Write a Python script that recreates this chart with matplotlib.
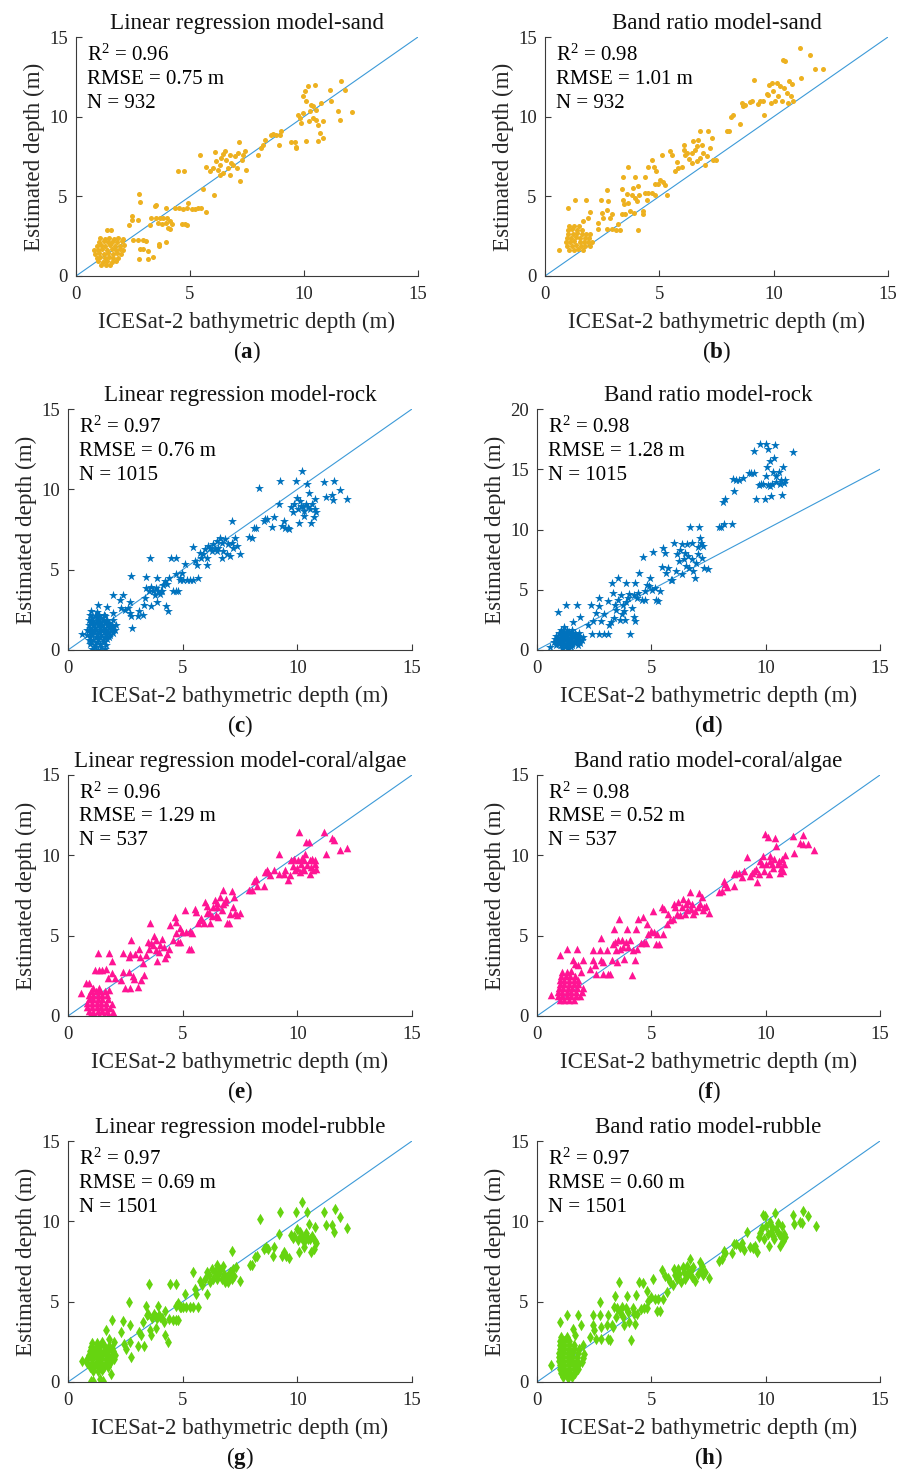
import numpy as np
import matplotlib
matplotlib.use("Agg")
import matplotlib.pyplot as plt

plt.rcParams["font.family"] = ["Liberation Serif", "DejaVu Serif"]
plt.rcParams["mathtext.fontset"] = "custom"
plt.rcParams["mathtext.rm"] = "Liberation Serif"
plt.rcParams["mathtext.it"] = "Liberation Serif:italic"
plt.rcParams["mathtext.bf"] = "Liberation Serif:bold"

# ---------------------------------------------------------------- data
# (ICESat-2 depth, estimated depth) pairs, metres
sand_lr = [
    # shallow cluster
    (1.10, 0.70), (1.32, 0.68), (1.50, 0.72),
    (0.95, 0.92), (1.17, 0.88), (1.36, 0.95), (1.56, 0.90), (1.74, 0.93),
    (0.90, 1.15), (1.06, 1.18), (1.25, 1.12), (1.46, 1.17), (1.64, 1.14), (1.86, 1.10),
    (0.84, 1.40), (1.01, 1.42), (1.21, 1.38), (1.40, 1.43), (1.61, 1.39), (1.79, 1.44), (1.96, 1.40),
    (0.80, 1.66), (0.96, 1.63), (1.16, 1.68), (1.34, 1.64), (1.56, 1.67), (1.74, 1.62), (1.94, 1.68), (2.06, 1.64),
    (0.90, 1.90), (1.11, 1.92), (1.29, 1.88), (1.51, 1.93), (1.69, 1.89), (1.91, 1.91), (2.10, 1.95),
    (1.00, 2.15), (1.21, 2.17), (1.41, 2.13), (1.59, 2.16), (1.81, 2.12), (2.01, 2.18),
    (1.05, 2.36), (1.26, 2.34), (1.44, 2.38), (1.66, 2.35), (1.84, 2.37), (2.05, 2.33),
    (1.35, 2.90), (1.55, 2.90),
    # 2-5 m
    (2.77, 5.16), (2.82, 4.63), (2.44, 3.76), (2.44, 3.49), (2.34, 3.19), (2.73, 3.49),
    (2.48, 2.23), (2.70, 2.23), (2.92, 2.23), (3.09, 2.19), (2.80, 1.67), (2.92, 1.67),
    (2.76, 1.09), (3.17, 1.09), (3.36, 1.19), (3.17, 1.57), (3.65, 1.98), (3.65, 1.88), (3.94, 2.15),
    (3.24, 3.19), (3.46, 4.38), (3.53, 4.43), (3.31, 3.65), (3.53, 3.65), (3.68, 3.65), (3.82, 3.65),
    (3.97, 3.65), (4.12, 3.44), (3.61, 3.34), (3.75, 3.28), (3.94, 3.34), (4.04, 3.03), (4.12, 2.92),
    (4.19, 3.24), (3.94, 4.24), (4.34, 4.24), (4.53, 4.28), (4.48, 6.58), (4.74, 6.58),
    (4.63, 3.24), (4.77, 3.24), (4.89, 3.19), (4.70, 4.18), (4.85, 4.24), (4.92, 4.59), (5.07, 4.18),
    (5.21, 4.18), (5.36, 4.28), (5.50, 4.28), (5.69, 4.01), (5.43, 7.58), (5.55, 5.43), (5.72, 6.87),
    (6.06, 5.11),
    # 6-8 m
    (5.87, 6.58), (6.01, 6.79), (6.09, 7.79), (6.16, 7.20), (6.23, 6.68), (6.31, 6.99), (6.38, 7.41),
    (6.45, 6.47), (6.53, 7.87), (6.60, 7.31), (6.67, 6.79), (6.74, 7.62), (6.82, 7.10), (6.89, 6.99),
    (6.96, 7.52), (7.04, 6.79), (7.11, 7.72), (7.18, 5.95), (7.26, 7.31), (7.33, 7.62), (7.15, 8.41),
    (7.47, 6.68), (6.77, 6.37), (6.45, 7.66), (6.31, 6.37), (7.40, 7.87), (7.99, 7.62), (8.13, 8.04),
    (8.20, 8.25), (8.28, 8.56),
    # 8.5-12 m
    (8.57, 8.87), (8.64, 8.91), (8.79, 8.83), (8.93, 8.83), (9.01, 9.12), (8.91, 8.20),
    (9.45, 8.41), (9.60, 8.41), (9.64, 8.04), (9.66, 8.08),
    (9.74, 10.13), (9.81, 9.92), (9.88, 9.60), (9.96, 10.23), (10.03, 11.59), (10.10, 10.96),
    (10.18, 11.90), (10.22, 9.71), (10.25, 10.33), (10.32, 10.75), (10.39, 9.92), (10.47, 12.00),
    (10.54, 10.44), (10.61, 9.50), (10.69, 8.98), (10.76, 10.86), (10.83, 9.71), (10.83, 8.66),
    (10.10, 8.46), (10.61, 8.46), (10.39, 10.65), (9.96, 11.27), (10.54, 9.81),
    (11.19, 10.96), (11.15, 11.69), (11.49, 10.33), (11.56, 9.81), (11.61, 12.25), (11.82, 11.69),
    (12.12, 10.29),
]

sand_br = [
    # shallow cluster
    (1.05, 1.66), (1.26, 1.63), (1.45, 1.67), (1.66, 1.64),
    (0.95, 1.90), (1.16, 1.88), (1.34, 1.92), (1.56, 1.89), (1.74, 1.91), (1.96, 1.87),
    (0.90, 2.15), (1.11, 2.13), (1.29, 2.17), (1.51, 2.14), (1.70, 2.16), (1.89, 2.12), (2.06, 2.16),
    (0.96, 2.40), (1.14, 2.38), (1.36, 2.42), (1.54, 2.39), (1.76, 2.41), (1.94, 2.37),
    (1.00, 2.65), (1.21, 2.63), (1.39, 2.67), (1.61, 2.64), (1.79, 2.66), (1.96, 2.62),
    (1.01, 2.90), (1.20, 2.92), (1.41, 2.88), (1.60, 2.91),
    (1.06, 3.14), (1.29, 3.16), (1.50, 3.12),
    (0.63, 1.61), (0.99, 4.24), (1.31, 4.76), (1.79, 4.76), (1.97, 4.01), (1.90, 3.65), (1.68, 3.44),
    # 2-5 m
    (2.45, 4.76), (2.48, 3.97), (2.52, 3.65), (2.73, 5.41), (2.77, 4.70), (2.73, 4.13), (2.84, 3.65),
    (2.92, 3.90), (2.73, 2.92), (2.92, 2.92), (3.10, 2.86), (3.28, 2.86), (3.21, 3.24), (2.33, 3.34),
    (2.33, 2.92), (3.40, 6.20), (3.35, 5.43), (3.40, 4.80), (3.45, 4.49), (3.35, 3.86), (3.50, 3.86),
    (3.62, 6.83), (3.57, 5.16), (3.64, 4.59), (3.72, 4.07), (3.79, 5.11), (3.86, 5.53), (3.94, 6.20),
    (3.94, 4.91), (4.01, 4.70), (4.08, 5.64), (4.13, 5.11), (3.89, 3.97), (4.30, 4.07), (4.30, 3.86),
    (4.37, 6.20), (4.45, 4.74), (4.08, 2.86), (4.37, 5.22), (4.52, 5.22), (4.66, 5.22), (4.66, 7.31),
    (4.52, 6.83), (4.81, 5.11), (4.77, 6.83), (4.85, 6.58), (4.81, 5.78), (4.96, 5.78), (5.03, 6.05),
    # 5-7.5 m
    (5.10, 7.62), (5.17, 5.91), (5.25, 5.74), (5.32, 5.11), (5.47, 7.87), (5.54, 7.62), (5.69, 6.58),
    (5.76, 7.16), (5.83, 6.79), (5.98, 6.83), (6.08, 8.25), (6.08, 7.93), (6.12, 7.62), (6.20, 7.72),
    (6.31, 7.37), (6.41, 7.10), (6.49, 8.46), (6.56, 7.93), (6.63, 8.14), (6.70, 8.56), (6.78, 9.08),
    (6.78, 7.41), (6.85, 8.25), (6.92, 7.72), (6.99, 6.99), (7.07, 7.52), (7.14, 9.08), (7.22, 8.04),
    (7.29, 8.66), (7.36, 7.31), (7.48, 7.31), (6.63, 7.20), (6.41, 7.72),
    # 8-12 m
    (7.94, 9.12), (8.06, 9.12), (8.13, 9.96), (8.21, 10.08), (8.53, 9.54),
    (8.62, 10.86), (8.66, 10.65), (8.74, 10.75), (8.97, 10.92), (9.04, 10.96), (9.14, 12.32),
    (9.33, 10.79), (9.40, 11.00), (9.55, 10.96), (9.59, 10.08), (9.69, 11.42), (9.77, 11.34),
    (9.81, 12.00), (9.87, 10.86), (9.91, 12.11), (9.99, 11.59), (10.06, 10.96), (10.13, 12.11),
    (10.20, 11.27), (10.28, 11.90), (10.35, 10.96), (10.39, 13.57), (10.50, 13.47), (10.45, 11.80),
    (10.57, 11.48), (10.64, 10.86), (10.69, 12.21), (10.76, 11.27), (10.79, 12.05), (10.86, 10.96),
    (11.15, 14.34), (11.18, 12.42), (11.59, 13.88), (11.81, 12.99), (12.14, 13.01),
]

rock_lr = [
    # shallow cluster
    (1.05, 0.05), (1.31, 0.03), (1.60, 0.06), (1.18, 0.20), (1.45, 0.18),
    (0.95, 0.35), (1.16, 0.33), (1.40, 0.37), (1.66, 0.34), (1.02, 0.50), (1.28, 0.50), (1.55, 0.52),
    (0.90, 0.65), (1.11, 0.63), (1.30, 0.67), (1.51, 0.64), (1.70, 0.66), (0.98, 0.80), (1.20, 0.80),
    (1.40, 0.82), (1.60, 0.79), (1.78, 0.80),
    (0.85, 0.95), (1.04, 0.93), (1.26, 0.97), (1.45, 0.94), (1.66, 0.96), (1.85, 0.92),
    (0.95, 1.10), (1.15, 1.10), (1.35, 1.12), (1.55, 1.09), (1.75, 1.10), (1.95, 1.08),
    (0.85, 1.25), (1.06, 1.23), (1.24, 1.27), (1.46, 1.24), (1.64, 1.26), (1.86, 1.22), (2.05, 1.26),
    (0.98, 1.40), (1.18, 1.40), (1.38, 1.42), (1.58, 1.39), (1.78, 1.40), (1.98, 1.41),
    (0.90, 1.55), (1.09, 1.53), (1.31, 1.57), (1.50, 1.54), (1.71, 1.56), (1.90, 1.52), (2.10, 1.56),
    (1.00, 1.70), (1.20, 1.70), (1.40, 1.72), (1.60, 1.69), (1.80, 1.71),
    (0.91, 1.85), (1.10, 1.83), (1.29, 1.87), (1.51, 1.84), (1.70, 1.86), (1.95, 1.84),
    (1.05, 2.00), (1.25, 2.00), (1.45, 2.02),
    (0.95, 2.15), (1.16, 2.13), (1.35, 2.17), (1.60, 2.14),
    (1.00, 2.40), (1.25, 2.38),
    (0.61, 1.00), (1.30, 2.82), (1.59, 2.15), (1.71, 2.65), (1.96, 3.40), (1.96, 2.30), (1.81, 1.57),
    # 2-5.7 m
    (2.28, 3.13), (2.42, 3.44), (2.31, 2.61), (2.47, 2.51), (2.61, 2.61), (2.69, 2.99), (2.73, 4.59),
    (2.80, 1.36), (2.69, 2.30), (2.73, 2.09), (3.05, 2.09), (3.09, 2.44), (3.27, 2.15), (3.31, 2.82),
    (3.34, 3.24), (3.39, 4.53), (3.42, 3.86), (3.52, 3.65), (3.59, 5.74), (3.63, 2.71), (3.63, 3.90),
    (3.71, 3.65), (3.78, 3.44), (3.82, 3.86), (3.88, 4.49), (3.88, 2.99), (3.93, 3.65), (4.00, 3.49),
    (4.07, 3.70), (4.12, 3.70), (4.15, 4.03), (4.22, 4.28), (4.26, 2.71), (4.37, 2.40), (4.32, 4.11),
    (4.41, 4.49), (4.47, 5.74), (4.58, 3.65), (4.70, 5.74), (4.70, 4.74), (4.73, 3.65), (4.80, 3.65),
    (4.88, 4.49), (4.88, 4.38), (4.95, 4.80), (5.02, 4.38), (5.17, 4.38), (5.31, 4.38), (5.46, 4.38),
    (5.68, 4.49), (5.09, 5.37), (5.43, 6.41), (5.53, 5.57), (5.61, 5.32),
    # 5.7-7.5 m
    (5.75, 6.05), (5.82, 5.74), (5.90, 5.95), (5.96, 6.26), (6.04, 5.32), (6.07, 5.74), (6.12, 6.47),
    (6.19, 6.37), (6.26, 6.16), (6.34, 6.58), (6.41, 6.26), (6.48, 6.79), (6.55, 6.37), (6.63, 6.99),
    (6.70, 6.68), (6.77, 6.16), (6.85, 6.89), (6.92, 5.95), (6.99, 6.58), (7.07, 5.85), (7.14, 8.04),
    (7.14, 6.68), (7.21, 6.37), (7.28, 6.99), (7.36, 6.47), (7.50, 5.99), (6.48, 6.16), (6.70, 5.74),
    # 7.9-12.2 m
    (7.91, 7.04), (8.01, 6.99), (8.12, 7.62), (8.20, 7.58), (8.35, 10.08), (8.53, 8.04), (8.61, 8.14),
    (8.67, 8.14), (8.89, 7.66), (8.99, 8.25), (9.18, 9.08), (9.23, 10.50), (9.33, 7.72), (9.43, 8.00),
    (9.47, 7.62), (9.58, 7.58), (9.62, 7.52),
    (9.72, 8.87), (9.81, 8.62), (9.87, 9.08), (9.96, 10.50), (9.99, 9.46), (10.01, 8.77), (10.07, 7.93),
    (10.10, 9.29), (10.16, 8.98), (10.22, 11.17), (10.25, 8.87), (10.31, 8.66), (10.36, 9.08),
    (10.42, 10.33), (10.45, 8.87), (10.51, 9.75), (10.57, 8.77), (10.61, 7.93), (10.66, 9.08),
    (10.72, 8.25), (10.76, 8.77), (10.79, 9.39), (10.83, 8.62), (10.28, 8.35),
    (11.18, 10.44), (11.23, 9.54), (11.52, 9.67), (11.56, 9.33), (11.61, 10.50), (11.85, 9.96),
    (12.18, 9.39),
]

rock_br = [
    # shallow cluster
    (1.10, 0.15), (1.35, 0.17), (1.22, 0.28), (1.48, 0.28),
    (0.85, 0.40), (1.05, 0.38), (1.30, 0.42), (1.55, 0.39), (1.80, 0.41),
    (0.95, 0.52), (1.18, 0.53), (1.42, 0.52), (1.68, 0.54),
    (0.75, 0.65), (0.95, 0.63), (1.15, 0.67), (1.40, 0.64), (1.65, 0.66), (1.90, 0.62),
    (0.88, 0.78), (1.08, 0.77), (1.30, 0.79), (1.55, 0.78), (1.80, 0.77),
    (0.80, 0.90), (1.00, 0.88), (1.20, 0.92), (1.45, 0.89), (1.70, 0.91), (1.95, 0.87),
    (0.92, 1.02), (1.12, 1.03), (1.35, 1.02), (1.60, 1.04), (1.85, 1.02),
    (0.85, 1.15), (1.05, 1.13), (1.30, 1.17), (1.55, 1.14), (1.80, 1.16), (2.00, 1.12),
    (1.05, 1.28), (1.25, 1.27), (1.50, 1.29), (1.72, 1.28),
    (0.95, 1.40), (1.15, 1.38), (1.40, 1.42), (1.65, 1.39), (1.85, 1.41),
    (1.18, 1.53), (1.42, 1.52),
    (1.05, 1.65), (1.30, 1.63), (1.55, 1.67), (1.20, 1.90),
    (0.56, 0.28), (0.93, 3.15), (1.29, 3.76), (1.73, 3.76), (1.59, 2.31), (1.88, 2.70), (2.25, 2.09),
    # 2.3-5.7 m
    (2.36, 3.76), (2.42, 1.31), (2.47, 2.37), (2.57, 3.06), (2.69, 1.31), (2.72, 4.32), (2.72, 3.62),
    (2.80, 2.37), (2.91, 1.31), (2.95, 2.98), (3.10, 4.09), (3.10, 1.31), (3.16, 2.09), (3.25, 2.31),
    (3.30, 5.57), (3.32, 4.74), (3.35, 2.65), (3.42, 3.76), (3.45, 3.34), (3.54, 5.99), (3.54, 4.18),
    (3.64, 2.51), (3.68, 4.60), (3.72, 2.98), (3.74, 3.76), (3.79, 3.20), (3.83, 2.51), (3.89, 5.57),
    (3.89, 3.98), (3.98, 4.32), (4.04, 4.65), (4.08, 1.31), (4.16, 3.48), (4.23, 4.60), (4.23, 2.70),
    (4.27, 5.57), (4.27, 2.37), (4.38, 4.32), (4.42, 4.74), (4.48, 6.41), (4.60, 4.18), (4.63, 7.72),
    (4.71, 4.87), (4.74, 4.18), (4.82, 5.43), (4.89, 5.29), (4.96, 5.99), (5.04, 5.01), (5.07, 8.13),
    (5.18, 5.15), (5.21, 4.18), (5.30, 4.09), (5.40, 4.87), (5.45, 6.88), (5.51, 8.50), (5.60, 8.08),
    (5.65, 6.41),
    # 5.7-7.5 m
    (5.74, 6.82), (5.84, 5.85), (5.92, 5.85), (5.99, 8.91), (6.06, 6.55), (6.14, 7.94), (6.21, 7.38),
    (6.24, 8.27), (6.33, 6.27), (6.36, 8.77), (6.43, 7.52), (6.46, 8.08), (6.51, 6.96), (6.58, 8.77),
    (6.62, 7.80), (6.65, 6.82), (6.71, 10.22), (6.77, 8.91), (6.80, 7.52), (6.83, 6.55), (6.92, 5.99),
    (6.95, 7.24), (7.02, 7.94), (7.09, 10.17), (7.12, 9.33), (7.17, 8.91), (7.21, 7.66), (7.27, 8.64),
    (7.31, 6.82), (7.46, 6.69), (7.02, 8.55),
    # 7.9-11.2 m
    (7.94, 10.17), (8.05, 10.17), (8.15, 12.26), (8.19, 10.45), (8.24, 12.53), (8.53, 10.45),
    (8.56, 14.21), (8.63, 13.23), (8.71, 14.12), (8.85, 14.07), (8.99, 14.29), (9.27, 14.68),
    (9.37, 14.68), (9.47, 16.52), (9.51, 14.68), (9.59, 12.53), (9.71, 13.73), (9.74, 17.08),
    (9.81, 13.79), (9.88, 13.79), (9.96, 12.53), (10.00, 14.40), (10.03, 17.08), (10.06, 15.18),
    (10.10, 16.71), (10.10, 13.73), (10.18, 13.65), (10.21, 15.68), (10.25, 12.81), (10.29, 13.79),
    (10.32, 14.76), (10.35, 15.96), (10.40, 16.99), (10.44, 13.93), (10.47, 14.40), (10.59, 14.76),
    (10.62, 13.79), (10.69, 14.07), (10.73, 12.90), (10.76, 15.18), (10.79, 13.84), (10.84, 14.07),
    (11.20, 16.43),
]

coral_lr = [
    # shallow cluster
    (0.95, 0.05), (1.15, 0.04), (1.35, 0.06), (1.55, 0.05), (1.75, 0.04), (1.95, 0.06),
    (0.90, 0.30), (1.10, 0.28), (1.30, 0.32), (1.50, 0.29), (1.70, 0.31), (1.95, 0.27),
    (0.85, 0.55), (1.05, 0.53), (1.25, 0.57), (1.45, 0.54), (1.65, 0.56), (1.85, 0.52),
    (0.85, 0.80), (1.05, 0.78), (1.25, 0.82), (1.45, 0.79), (1.65, 0.81), (1.90, 0.77),
    (0.90, 1.05), (1.10, 1.03), (1.30, 1.07), (1.50, 1.04), (1.75, 1.06),
    (0.90, 1.30), (1.10, 1.28), (1.30, 1.32), (1.50, 1.29), (1.70, 1.31),
    (1.00, 1.55), (1.20, 1.53), (1.40, 1.57), (1.60, 1.54),
    (1.10, 1.75), (1.35, 1.77),
    (0.58, 1.41), (0.80, 2.03), (0.92, 2.07), (1.18, 2.86), (1.29, 3.93), (1.36, 2.86), (1.48, 2.86),
    (1.65, 2.90), (1.77, 3.93), (1.73, 2.34), (1.94, 3.42), (1.80, 1.61), (1.94, 2.65), (2.06, 2.34),
    # 2.3-5.6 m
    (2.31, 2.24), (2.41, 3.93), (2.41, 2.75), (2.50, 1.76), (2.68, 3.69), (2.70, 3.89), (2.75, 4.72),
    (2.68, 2.75), (2.72, 1.76), (2.82, 2.48), (2.89, 2.28), (2.94, 3.89), (3.04, 1.82), (3.11, 4.20),
    (3.14, 3.69), (3.19, 2.24), (3.29, 3.27), (3.33, 2.55), (3.41, 3.79), (3.48, 4.62), (3.55, 4.20),
    (3.58, 5.80), (3.62, 4.55), (3.70, 4.41), (3.73, 4.97), (3.82, 4.10), (3.85, 4.72), (3.88, 3.42),
    (3.96, 4.00), (4.02, 4.41), (4.11, 4.82), (4.17, 4.31), (4.25, 3.62), (4.31, 3.89), (4.40, 4.20),
    (4.46, 5.65), (4.58, 4.72), (4.65, 6.17), (4.69, 5.86), (4.72, 5.18), (4.80, 4.62), (4.87, 5.45),
    (4.90, 4.62), (4.99, 5.24), (5.09, 6.58), (5.16, 5.24), (5.28, 4.20), (5.31, 5.30), (5.38, 4.20),
    (5.42, 5.18), (5.53, 6.69), (5.60, 6.48),
    # 5.6-7.5 m
    (5.67, 5.76), (5.75, 5.96), (5.82, 6.13), (5.92, 5.76), (5.96, 7.10), (6.04, 6.38), (6.07, 6.83),
    (6.15, 6.48), (6.18, 5.80), (6.26, 6.21), (6.33, 6.79), (6.40, 7.25), (6.45, 6.27), (6.51, 7.04),
    (6.55, 6.17), (6.62, 7.41), (6.70, 6.62), (6.74, 7.83), (6.77, 7.00), (6.84, 7.10), (6.89, 7.31),
    (6.94, 5.80), (7.03, 5.76), (7.06, 6.34), (7.13, 7.78), (7.18, 6.79), (7.24, 7.41), (7.30, 6.38),
    (7.38, 6.27), (7.50, 6.38), (6.48, 6.79),
    # 7.9-12.2 m
    (7.91, 7.83), (8.01, 7.83), (8.11, 8.41), (8.20, 8.55), (8.25, 8.07), (8.55, 8.07), (8.60, 8.96),
    (8.67, 9.07), (8.74, 8.96), (8.82, 8.76), (8.99, 9.07), (9.18, 10.06), (9.22, 8.86), (9.40, 8.86),
    (9.47, 9.07), (9.58, 8.49), (9.66, 8.76), (9.72, 9.69), (9.81, 9.32), (9.84, 9.79), (9.91, 9.07),
    (9.99, 9.23), (10.01, 9.69), (10.06, 11.45), (10.10, 8.96), (10.16, 9.44), (10.20, 9.86),
    (10.25, 9.17), (10.31, 9.69), (10.35, 10.10), (10.39, 10.83), (10.42, 9.38), (10.50, 10.83),
    (10.54, 9.69), (10.60, 9.28), (10.64, 9.79), (10.69, 9.07), (10.75, 9.48), (10.79, 9.69),
    (10.83, 9.17), (10.57, 8.86), (10.28, 9.07),
    (11.15, 11.45), (11.23, 10.06), (11.49, 11.10), (11.59, 10.97), (11.86, 10.35), (12.15, 10.48),
]

coral_br = [
    # shallow cluster
    (1.00, 1.00), (1.20, 0.98), (1.40, 1.02), (1.60, 0.99),
    (0.90, 1.25), (1.10, 1.23), (1.30, 1.27), (1.50, 1.24), (1.70, 1.26), (1.90, 1.22),
    (0.90, 1.50), (1.10, 1.48), (1.30, 1.52), (1.50, 1.49), (1.70, 1.51), (1.95, 1.47),
    (0.95, 1.75), (1.15, 1.73), (1.35, 1.77), (1.55, 1.74), (1.75, 1.76), (2.00, 1.72),
    (1.00, 2.00), (1.20, 1.98), (1.40, 2.02), (1.60, 1.99), (1.80, 2.01),
    (1.00, 2.25), (1.20, 2.23), (1.40, 2.27), (1.60, 2.24), (1.80, 2.26),
    (1.05, 2.50), (1.25, 2.48), (1.45, 2.52), (1.65, 2.49),
    (1.10, 2.75), (1.30, 2.73), (1.50, 2.77),
    (0.63, 1.30), (0.99, 3.77), (1.32, 4.19), (1.75, 4.19), (1.58, 3.46), (1.64, 3.26), (1.80, 3.15),
    (2.02, 3.51), (1.94, 2.74),
    # 2.3-5.7 m
    (2.31, 2.95), (2.43, 4.12), (2.46, 3.46), (2.53, 3.15), (2.57, 2.64), (2.75, 4.08), (2.78, 4.87),
    (2.82, 3.51), (2.87, 3.36), (2.89, 2.64), (3.07, 4.12), (3.11, 2.64), (3.19, 2.64), (3.30, 3.46),
    (3.33, 4.49), (3.36, 5.42), (3.41, 4.60), (3.45, 4.08), (3.48, 3.36), (3.55, 4.70), (3.60, 6.04),
    (3.63, 4.19), (3.70, 4.70), (3.74, 4.29), (3.80, 3.57), (3.89, 4.60), (3.95, 5.42), (3.99, 4.29),
    (4.06, 4.70), (4.14, 2.54), (4.21, 4.08), (4.28, 3.51), (4.33, 5.42), (4.36, 4.19), (4.43, 6.04),
    (4.53, 4.54), (4.62, 6.14), (4.68, 4.60), (4.77, 4.54), (4.80, 5.73), (4.87, 5.11), (4.97, 5.32),
    (5.06, 6.56), (5.12, 5.22), (5.20, 4.49), (5.26, 5.11), (5.35, 4.49), (5.45, 6.80), (5.50, 5.11),
    (5.56, 6.66), (5.67, 5.73),
    # 5.7-7.5 m
    (5.75, 6.35), (5.82, 5.98), (5.94, 6.04), (5.99, 6.97), (6.04, 6.76), (6.11, 6.35), (6.18, 7.07),
    (6.26, 6.31), (6.33, 6.76), (6.40, 7.28), (6.48, 6.35), (6.52, 6.97), (6.58, 6.60), (6.62, 7.18),
    (6.70, 7.69), (6.73, 6.66), (6.77, 6.97), (6.84, 6.35), (7.06, 6.76), (7.10, 7.63), (7.13, 6.97),
    (7.21, 7.38), (7.25, 6.60), (7.31, 6.76), (7.40, 6.87), (7.50, 6.39), (6.92, 6.56),
    # 8-12.2 m
    (7.98, 7.69), (8.08, 7.79), (8.19, 8.41), (8.23, 8.21), (8.30, 8.04), (8.60, 8.10), (8.60, 8.82),
    (8.71, 8.93), (8.82, 8.87), (8.96, 8.66), (9.04, 9.03), (9.18, 9.90), (9.33, 8.72), (9.40, 8.93),
    (9.47, 9.03), (9.59, 9.13), (9.62, 8.37), (9.69, 8.82), (9.77, 9.65), (9.84, 9.44), (9.88, 9.96),
    (9.94, 9.03), (9.99, 11.34), (10.03, 9.44), (10.09, 11.13), (10.13, 8.82), (10.18, 9.96),
    (10.20, 9.65), (10.28, 9.44), (10.32, 9.24), (10.38, 9.75), (10.42, 11.05), (10.47, 10.58),
    (10.53, 9.44), (10.57, 9.65), (10.61, 8.87), (10.67, 9.24), (10.72, 9.75), (10.76, 9.03),
    (10.82, 9.44), (10.86, 10.02),
    (11.20, 11.20), (11.23, 10.16), (11.52, 10.78), (11.64, 11.26), (11.64, 10.68), (11.84, 10.68),
    (12.13, 10.31),
]

rubble_lr = [
    # shallow cluster
    (1.10, 0.70), (1.30, 0.68), (1.50, 0.72),
    (0.95, 0.95), (1.15, 0.93), (1.35, 0.97), (1.55, 0.94), (1.75, 0.96),
    (0.85, 1.20), (1.05, 1.18), (1.25, 1.22), (1.45, 1.19), (1.65, 1.21), (1.85, 1.17),
    (0.85, 1.45), (1.05, 1.43), (1.25, 1.47), (1.45, 1.44), (1.65, 1.46), (1.85, 1.42), (2.00, 1.46),
    (0.90, 1.70), (1.10, 1.68), (1.30, 1.72), (1.50, 1.69), (1.70, 1.71), (1.90, 1.67), (2.05, 1.71),
    (0.95, 1.95), (1.15, 1.93), (1.35, 1.97), (1.55, 1.94), (1.75, 1.96), (1.95, 1.92),
    (1.00, 2.20), (1.20, 2.18), (1.40, 2.22), (1.60, 2.19), (1.80, 2.21),
    (1.05, 2.45), (1.25, 2.43), (1.50, 2.47),
    (0.60, 1.28), (0.99, 0.04), (1.10, 0.04), (1.39, 0.21), (1.54, 0.04), (1.87, 0.52), (1.65, 3.25),
    (1.77, 2.69), (1.94, 3.83), (2.02, 2.48), (1.94, 2.11),
    # 2.3-5.7 m
    (2.31, 3.11), (2.41, 3.77), (2.46, 2.38), (2.53, 2.07), (2.68, 4.97), (2.70, 3.52), (2.72, 2.48),
    (2.75, 1.55), (3.04, 2.24), (3.11, 3.11), (3.19, 2.90), (3.26, 3.73), (3.33, 2.24), (3.38, 4.72),
    (3.44, 4.14), (3.48, 4.24), (3.55, 6.11), (3.58, 3.21), (3.63, 2.90), (3.67, 3.98), (3.73, 4.24),
    (3.82, 4.04), (3.85, 3.35), (3.88, 3.98), (3.92, 4.72), (3.96, 4.18), (4.02, 4.04), (4.11, 3.98),
    (4.17, 3.73), (4.21, 4.45), (4.25, 2.90), (4.36, 2.48), (4.40, 3.93), (4.46, 6.11), (4.58, 3.89),
    (4.69, 6.11), (4.72, 3.89), (4.80, 3.89), (4.69, 4.76), (4.80, 4.93), (4.87, 4.66), (4.94, 4.66),
    (5.01, 4.66), (5.09, 5.49), (5.16, 4.66), (5.31, 4.66), (5.45, 4.66), (5.67, 4.66), (5.45, 6.83),
    (5.53, 5.76), (5.60, 5.49),
    # 5.7-7.5 m
    (5.77, 6.31), (5.86, 6.05), (5.96, 6.38), (6.04, 5.49), (6.07, 6.83), (6.15, 6.63), (6.21, 6.21),
    (6.30, 7.04), (6.33, 6.42), (6.40, 6.83), (6.48, 7.29), (6.55, 6.63), (6.62, 6.94), (6.70, 6.42),
    (6.74, 7.25), (6.80, 6.73), (6.84, 6.21), (6.94, 6.52), (6.99, 6.21), (7.06, 6.83), (7.13, 8.18),
    (7.13, 6.42), (7.21, 7.04), (7.24, 6.58), (7.32, 7.14), (7.50, 6.31), (6.50, 6.42),
    # 7.9-12.2 m
    (7.94, 7.29), (8.04, 7.29), (8.16, 7.76), (8.23, 7.87), (8.38, 10.14), (8.55, 8.28), (8.64, 8.39),
    (8.70, 8.28), (8.94, 7.87), (8.99, 8.39), (9.18, 9.21), (9.23, 10.60), (9.33, 7.83), (9.43, 8.12),
    (9.52, 7.87), (9.62, 7.70), (9.72, 9.15), (9.81, 8.94), (9.87, 9.11), (9.96, 10.60), (9.99, 9.52),
    (10.01, 8.86), (10.07, 8.07), (10.10, 9.32), (10.16, 9.01), (10.22, 11.18), (10.25, 8.94),
    (10.31, 8.70), (10.36, 9.28), (10.42, 10.56), (10.45, 8.90), (10.51, 9.83), (10.57, 8.90),
    (10.61, 8.07), (10.66, 9.11), (10.72, 8.28), (10.76, 8.80), (10.79, 9.63), (10.83, 8.65),
    (10.28, 8.39),
    (11.18, 10.56), (11.23, 9.77), (11.52, 9.77), (11.59, 9.36), (11.66, 10.77), (11.86, 10.25),
    (12.18, 9.57),
]

rubble_br = [
    # shallow cluster
    (1.15, 0.30), (1.35, 0.28), (1.55, 0.32),
    (1.05, 0.55), (1.25, 0.53), (1.45, 0.57), (1.65, 0.54),
    (1.00, 0.80), (1.20, 0.78), (1.40, 0.82), (1.60, 0.79), (1.80, 0.81),
    (1.00, 1.05), (1.20, 1.03), (1.40, 1.07), (1.60, 1.04), (1.80, 1.06),
    (0.95, 1.30), (1.15, 1.28), (1.35, 1.32), (1.55, 1.29), (1.75, 1.31), (1.95, 1.27),
    (0.95, 1.55), (1.15, 1.53), (1.35, 1.57), (1.55, 1.54), (1.75, 1.56), (2.00, 1.52),
    (0.95, 1.80), (1.15, 1.78), (1.35, 1.82), (1.55, 1.79), (1.80, 1.81), (2.05, 1.77),
    (1.00, 2.05), (1.20, 2.03), (1.40, 2.07), (1.60, 2.04), (1.85, 2.06),
    (1.00, 2.30), (1.20, 2.28), (1.40, 2.32), (1.60, 2.29),
    (1.00, 2.55), (1.20, 2.53), (1.40, 2.57),
    (1.05, 2.80), (1.30, 2.78),
    (0.63, 1.08), (0.99, 3.73), (1.32, 4.18), (1.80, 4.18), (1.58, 3.31), (1.64, 2.94), (1.94, 3.56),
    (2.02, 2.28),
    # 2.3-5.7 m
    (2.31, 2.80), (2.43, 4.14), (2.46, 3.56), (2.49, 3.21), (2.57, 2.69), (2.75, 4.97), (2.75, 4.14),
    (2.78, 3.42), (2.82, 2.69), (3.07, 3.52), (3.11, 2.69), (3.19, 2.59), (3.11, 4.18), (3.30, 3.56),
    (3.33, 3.42), (3.36, 4.66), (3.41, 5.34), (3.45, 4.04), (3.51, 4.60), (3.60, 6.21), (3.63, 4.35),
    (3.70, 4.66), (3.74, 4.04), (3.80, 3.52), (3.89, 4.60), (3.92, 5.38), (3.99, 4.35), (4.04, 3.73),
    (4.09, 2.59), (4.18, 4.60), (4.24, 4.24), (4.28, 3.62), (4.33, 5.42), (4.39, 4.24), (4.47, 6.21),
    (4.53, 4.55), (4.62, 6.17), (4.68, 4.60), (4.80, 4.60), (4.82, 5.69), (4.87, 5.07), (4.97, 5.28),
    (5.09, 6.42), (5.16, 5.18), (5.23, 4.45), (5.31, 5.18), (5.38, 4.45), (5.45, 6.94), (5.50, 5.18),
    (5.60, 6.58), (5.67, 5.59),
    # 5.7-7.6 m
    (5.75, 6.46), (5.82, 6.21), (5.94, 6.05), (6.00, 7.04), (6.04, 6.63), (6.11, 6.38), (6.18, 7.04),
    (6.23, 6.73), (6.29, 6.25), (6.37, 7.14), (6.43, 6.83), (6.48, 6.42), (6.55, 7.25), (6.62, 6.73),
    (6.70, 7.66), (6.73, 6.94), (6.77, 6.52), (6.84, 7.14), (6.92, 6.31), (7.06, 6.73), (7.13, 7.49),
    (7.16, 6.94), (7.21, 7.25), (7.28, 6.67), (7.35, 6.83), (7.54, 6.46),
    # 8-12.2 m
    (7.98, 7.56), (8.08, 7.66), (8.19, 8.18), (8.23, 8.03), (8.52, 8.03), (8.60, 8.59), (8.71, 8.59),
    (8.89, 8.39), (8.96, 8.65), (9.04, 8.24), (9.18, 9.32), (9.33, 8.39), (9.44, 8.32), (9.55, 8.49),
    (9.62, 8.07), (9.69, 9.01), (9.77, 9.28), (9.84, 9.57), (9.88, 10.39), (9.91, 8.90), (9.99, 10.31),
    (10.03, 9.73), (10.09, 9.21), (10.13, 8.49), (10.18, 9.94), (10.23, 9.32), (10.28, 9.63),
    (10.32, 9.11), (10.38, 8.90), (10.42, 10.52), (10.47, 9.52), (10.53, 9.90), (10.57, 9.21),
    (10.61, 8.49), (10.67, 9.11), (10.72, 9.73), (10.76, 8.80), (10.82, 9.21), (10.86, 9.01),
    (11.20, 10.39), (11.23, 9.83), (11.52, 9.98), (11.64, 10.66), (11.59, 9.90), (11.84, 10.31),
    (12.18, 9.69),
]

titles = [
    "Linear regression model-sand", "Band ratio model-sand",
    "Linear regression model-rock", "Band ratio model-rock",
    "Linear regression model-coral/algae", "Band ratio model-coral/algae",
    "Linear regression model-rubble", "Band ratio model-rubble",
]
r2_values = ["0.96", "0.98", "0.97", "0.98", "0.96", "0.98", "0.97", "0.97"]
rmse_values = ["0.75", "1.01", "0.76", "1.28", "1.29", "0.52", "0.69", "0.60"]
n_values = ["932", "932", "1015", "1015", "537", "537", "1501", "1501"]
letters = ["a", "b", "c", "d", "e", "f", "g", "h"]
xticks = [0, 5, 10, 15]
yticks_default = [0, 5, 10, 15]
yticks_rock_br = [0, 5, 10, 15, 20]

# ---------------------------------------------------------------- styling
W, H = 900, 1472
LINE_COLOR = "#3c9ad8"
AX_COLOR = "#3a3a3a"
SAND = "#edb120"
ROCK = "#0072bd"
CORAL = "#ff1493"
RUBBLE = "#66d410"

series = [
    (sand_lr, "o", SAND, 13), (sand_br, "o", SAND, 13),
    (rock_lr, "*", ROCK, 46), (rock_br, "*", ROCK, 46),
    (coral_lr, "^", CORAL, 30), (coral_br, "^", CORAL, 30),
    (rubble_lr, "d", RUBBLE, 34), (rubble_br, "d", RUBBLE, 34),
]

# axes boxes in pixels: (left, top, right, bottom)
boxes = [
    (76, 37, 418, 276), (545, 37, 888, 276),
    (68, 409, 412, 650), (537, 409, 880, 650),
    (68, 775, 412, 1016), (537, 775, 880, 1016),
    (68, 1141, 412, 1382), (537, 1141, 880, 1382),
]

fig = plt.figure(figsize=(W / 100, H / 100), dpi=100)

for i in range(8):
    l, t, r, b = boxes[i]
    ax = fig.add_axes([l / W, 1 - b / H, (r - l) / W, (b - t) / H])
    pts, mk, col, size = series[i]
    xs, ys = np.array(pts).T

    ax.plot([0, 15], [0, 15], color=LINE_COLOR, lw=0.8, zorder=1)
    ax.scatter(xs, ys, marker=mk, s=size, c=col, linewidths=0, zorder=2)

    ymax = 20 if i == 3 else 15
    ax.set_xlim(0, 15)
    ax.set_ylim(0, ymax)
    ax.set_xticks(xticks)
    ax.set_yticks(yticks_rock_br if i == 3 else yticks_default)

    for side in ("top", "right"):
        ax.spines[side].set_visible(False)
    for side in ("left", "bottom"):
        ax.spines[side].set_color(AX_COLOR)
        ax.spines[side].set_linewidth(0.8)
    ax.tick_params(direction="in", length=4, width=0.8, color=AX_COLOR,
                   labelsize=13.5, labelcolor="#262626")
    ax.tick_params(axis="x", pad=7)
    ax.tick_params(axis="y", pad=6)

    hpx = b - t
    wpx = r - l
    ax.set_title(titles[i], fontsize=16.6, color="#111111", pad=6)
    ax.text(0.5, -46 / hpx, "ICESat-2 bathymetric depth (m)", transform=ax.transAxes,
            ha="center", va="center", fontsize=16.6, color="#262626")
    ax.text(-42 / wpx, 0.5, "Estimated depth (m)", transform=ax.transAxes,
            ha="center", va="center", rotation=90, fontsize=16.6, color="#262626")
    ax.text(0.5, -76 / hpx, r"($\mathbf{" + letters[i] + r"}$)", transform=ax.transAxes,
            ha="center", va="center", fontsize=16.6, color="#111111")

    x0 = 11 / wpx
    ax.text(x0, 1 - 18 / hpx, r"R$^{2}$ = " + r2_values[i], transform=ax.transAxes,
            ha="left", va="center", fontsize=15)
    ax.text(x0, 1 - 42 / hpx, "RMSE = " + rmse_values[i] + " m", transform=ax.transAxes,
            ha="left", va="center", fontsize=15)
    ax.text(x0, 1 - 66 / hpx, "N = " + n_values[i], transform=ax.transAxes,
            ha="left", va="center", fontsize=15)

fig.savefig("out.png", dpi=100)
